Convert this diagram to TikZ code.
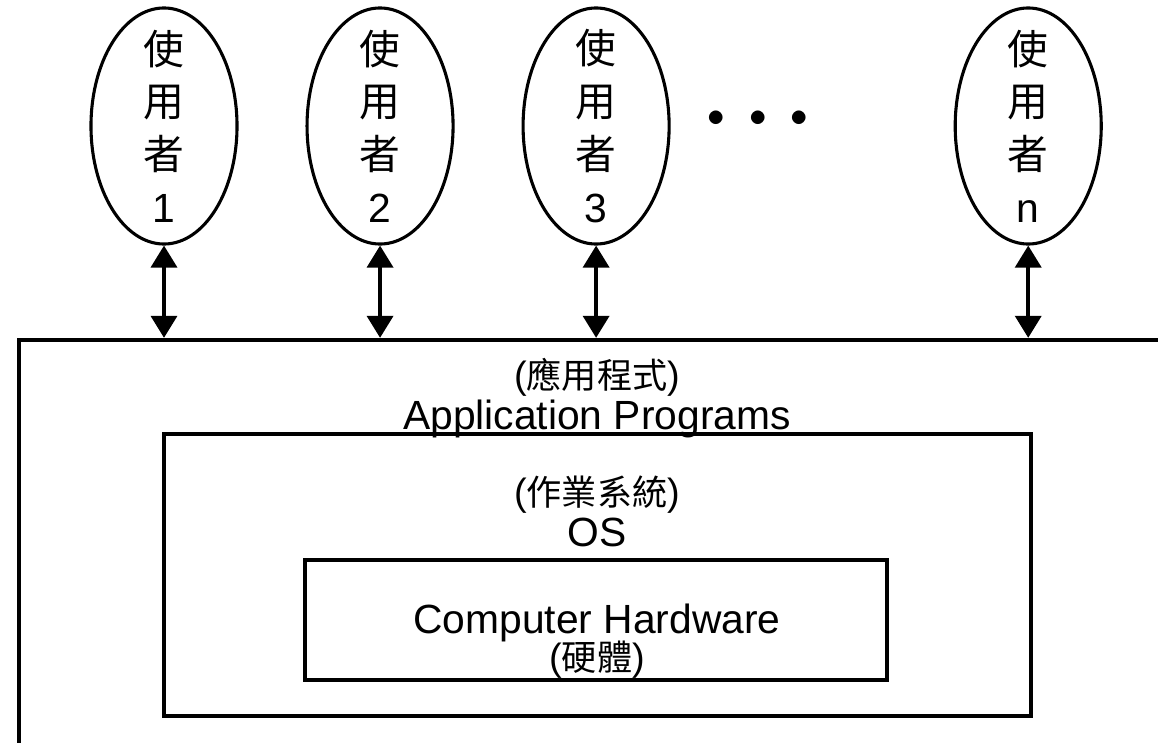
\documentclass[tikz,border=0pt]{standalone}
\usepackage{fontspec}
\setmainfont{Liberation Sans}
\newfontfamily\cjk{Noto Sans CJK TC}
\newcommand{\zh}[1]{{\cjk #1}}
\newcommand{\zhsmall}[1]{{\fontsize{25}{28}\selectfont\cjk #1}}
\usetikzlibrary{arrows.meta,shapes.geometric,positioning}

\begin{document}
\begin{tikzpicture}[x=0.025cm,y=-0.025cm,<->,>={Triangle[width=0.65cm,length=0.55cm]},line width=2.6pt]
\tikzstyle{user}=[ellipse,draw,line width=2.2pt,minimum width=3.65cm,minimum height=5.9cm,inner sep=-0.6cm,align=center,font=\fontsize{29}{37.5}\selectfont]
\tikzstyle{layer}=[rectangle,draw,line width=3pt,inner sep=0pt]
\tikzstyle{label}=[font=\fontsize{29}{34}\selectfont,inner sep=0pt,anchor=base,text height=0.7cm,text depth=0.15cm]
\tikzstyle{zhlabel}=[font=\fontsize{27}{30}\selectfont,inner sep=0pt,anchor=base,text height=0.6cm,text depth=0.12cm]

\useasboundingbox (0,0) rectangle (1158,743);
\clip (0,0) rectangle (1158,743);

\node[user]		(U1) at (164,126) {\zh{使}\\\zh{用}\\\zh{者}\\1};
\node[user]		(U2) [right of=U1,node distance=5.4cm] {\zh{使}\\\zh{用}\\\zh{者}\\2};
\node[user]		(U3) [right of=U2,node distance=5.4cm] {\zh{使}\\\zh{用}\\\zh{者}\\3};
\node[user]		(Un) [right of=U3,node distance=10.8cm] {\zh{使}\\\zh{用}\\\zh{者}\\n};
\node[font=\fontsize{29}{34}\selectfont] (dots) at (758,119) {$\bullet$\hspace{0.6cm}$\bullet$\hspace{0.6cm}$\bullet$};

% nested layers
\node[layer,minimum width=29.5cm,minimum height=11.5cm] (apps) at (609.5,570) {};
\node[layer,minimum width=21.675cm,minimum height=7.05cm] (os) at (597.5,575) {};
\node[layer,minimum width=14.55cm,minimum height=3cm] (hw) at (596,620) {};

\node[zhlabel]	(appzh) at (597,388) {(\zhsmall{應用程式})};
\node[label]		(appen) at (597,429) {Application Programs};
\node[zhlabel]	(oszh) at (597,505) {(\zhsmall{作業系統})};
\node[label]		(osen) at (597,546) {OS};
\node[label]		(hwen) at (597,633) {Computer Hardware};
\node[zhlabel]	(hwzh) at (597,670) {(\zhsmall{硬體})};

\foreach \u in {U1,U2,U3,Un}
  \draw (\u.south) -- (\u.south |- apps.north);
\end{tikzpicture}
\end{document}
